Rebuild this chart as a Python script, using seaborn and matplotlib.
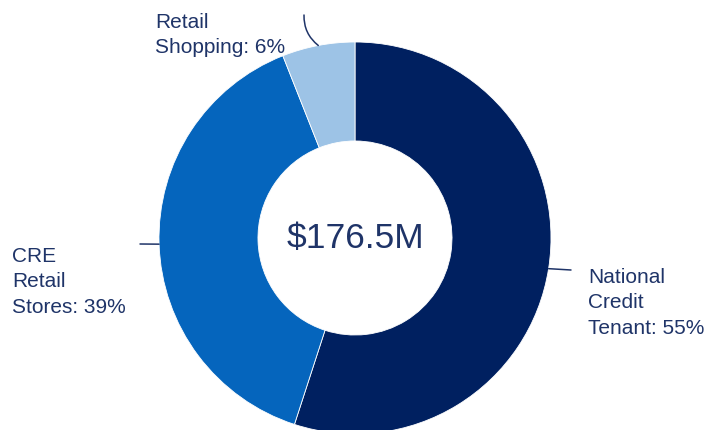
"""
Donut chart: loan portfolio by segment
"""
import numpy as np
import seaborn as sns
import matplotlib.pyplot as plt


SEGMENTS = ['National\nCredit\nTenant', 'CRE\nRetail\nStores', 'Retail\nShopping']
SHARES = [55, 39, 6]
TOTAL_LABEL = '$176.5M'

sns.set_theme(style="white")
palette = sns.color_palette(['#002060', '#0565bd', '#9dc3e6'])
plt.rcParams['font.family'] = ['Liberation Sans', 'DejaVu Sans']

TEXT_COLOR = '#1f3468'

fig = plt.figure(figsize=(7.06, 4.30), dpi=100)
ax = fig.add_axes([0, 0, 1, 1])

center = (355, 192)
radius = 196
wedges, _ = ax.pie(
    SHARES,
    colors=palette,
    startangle=90,
    counterclock=False,
    center=center,
    radius=radius,
    frame=True,
    wedgeprops=dict(width=radius * 0.505, edgecolor='white', linewidth=0.6),
)
ax.set_xlim(0, 706)
ax.set_ylim(0, 430)
ax.set_aspect('equal')
ax.axis('off')

ax.text(center[0], 182, TOTAL_LABEL, ha='center', va='baseline',
        fontsize=25.5, color=TEXT_COLOR)

# label anchors (text top-left) and leader-line end points
label_pos = [(588, 162), (12, 183), (155, 417)]
leader_end = [(571, 160), (140, 186), (304, 415)]
leader_rad = [0, 0, 0.25]

for wedge, name, share, tpos, lend, rad in zip(
        wedges, SEGMENTS, SHARES, label_pos, leader_end, leader_rad):
    ang = np.deg2rad((wedge.theta1 + wedge.theta2) / 2)
    edge = (center[0] + radius * np.cos(ang), center[1] + radius * np.sin(ang))
    ax.annotate('', xy=edge, xytext=lend,
                arrowprops=dict(arrowstyle='-', color=TEXT_COLOR, lw=1.1,
                                shrinkA=0, shrinkB=0,
                                connectionstyle=f'arc3,rad={rad}'))
    ax.text(tpos[0], tpos[1], f'{name}: {share}%', ha='left', va='top',
            fontsize=15, color=TEXT_COLOR, linespacing=1.42)

fig.savefig('out.png', dpi=100)
